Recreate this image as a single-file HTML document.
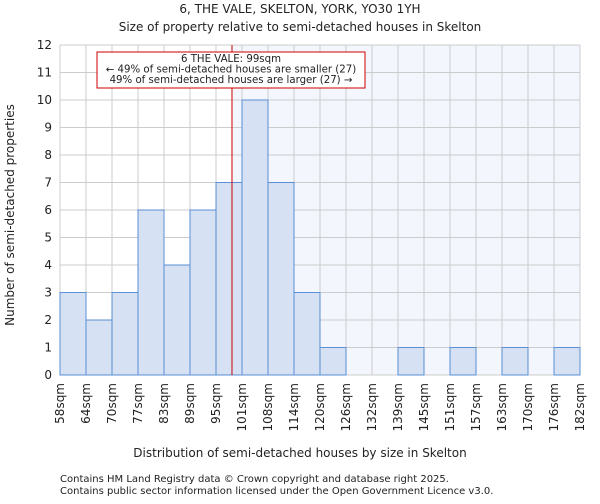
<!DOCTYPE html>
<html><head><meta charset="utf-8"><style>
body{margin:0;background:#fff;font-family:"DejaVu Sans","Liberation Sans",sans-serif;}
svg text{font-family:"DejaVu Sans","Liberation Sans",sans-serif;fill:#222;}
</style></head><body>
<svg id="chart" width="600" height="500" xmlns="http://www.w3.org/2000/svg">
<text x="300" y="13" text-anchor="middle" font-size="12">6, THE VALE, SKELTON, YORK, YO30 1YH</text>
<text x="300" y="31" text-anchor="middle" font-size="12">Size of property relative to semi-detached houses in Skelton</text>
<g id="plot"></g>
<text x="300" y="457" text-anchor="middle" font-size="12">Distribution of semi-detached houses by size in Skelton</text>
<text transform="translate(14,215) rotate(-90)" text-anchor="middle" font-size="12">Number of semi-detached properties</text>
<text x="60" y="482" font-size="10">Contains HM Land Registry data © Crown copyright and database right 2025.</text>
<text x="60" y="494" font-size="10">Contains public sector information licensed under the Open Government Licence v3.0.</text>
</svg>
<script>
const binLabels=["58sqm","64sqm","70sqm","77sqm","83sqm","89sqm","95sqm","101sqm","108sqm","114sqm","120sqm","126sqm","132sqm","139sqm","145sqm","151sqm","157sqm","163sqm","170sqm","176sqm","182sqm"];
const counts=[3,2,3,6,4,6,7,10,7,3,1,0,0,1,0,1,0,1,0,1];
const yTicks=[0,1,2,3,4,5,6,7,8,9,10,11,12];
const markerBin=6.615;
const NS="http://www.w3.org/2000/svg";
const L=60,R=580,T=45,B=375,yMax=12;
const bw=(R-L)/counts.length;
const xs=i=>L+i*bw;
const ys=v=>B-v/yMax*(B-T);
const g=document.getElementById('plot');
function mk(t,a){const e=document.createElementNS(NS,t);for(const k in a)e.setAttribute(k,a[k]);g.appendChild(e);return e;}
const mx=xs(markerBin);
let e=mk('rect',{x:mx,y:T,width:R-mx,height:B-T,fill:'#f3f6fd'});


yTicks.forEach(v=>{
 let l=mk('line',{x1:L,x2:R,y1:ys(v),y2:ys(v),stroke:'#cccccc','stroke-width':1});
 
 
 let t=mk('text',{x:L-8,y:ys(v)+4,'text-anchor':'end','font-size':12});
 t.textContent=v;
 
 
});
binLabels.forEach((s,i)=>{
 let l=mk('line',{x1:xs(i),x2:xs(i),y1:T,y2:B,stroke:'#cccccc','stroke-width':1});
 
 
 let t=mk('text',{transform:`translate(${xs(i)+4},${B+8}) rotate(-90)`,'text-anchor':'end','font-size':12});
 t.textContent=s;
 
 
});
counts.forEach((c,i)=>{
 if(c<=0)return;
 let r=mk('rect',{x:xs(i),y:ys(c),width:bw,height:B-ys(c),fill:'#d6e2f3',stroke:'#5b8fd6','stroke-width':1});
 
 
});
let ml=mk('line',{x1:mx,x2:mx,y1:T,y2:B,stroke:'#cc0000','stroke-width':1});


let box=mk('rect',{x:97,y:52,width:268,height:36,fill:'#fff',stroke:'#cc0000','stroke-width':1});


["6 THE VALE: 99sqm","← 49% of semi-detached houses are smaller (27)","49% of semi-detached houses are larger (27) →"].forEach((s,i)=>{
 let t=mk('text',{x:231,y:62+i*10.5,'text-anchor':'middle','font-size':10.2});
 t.textContent=s;
 
 
});
</script>
</body></html>
